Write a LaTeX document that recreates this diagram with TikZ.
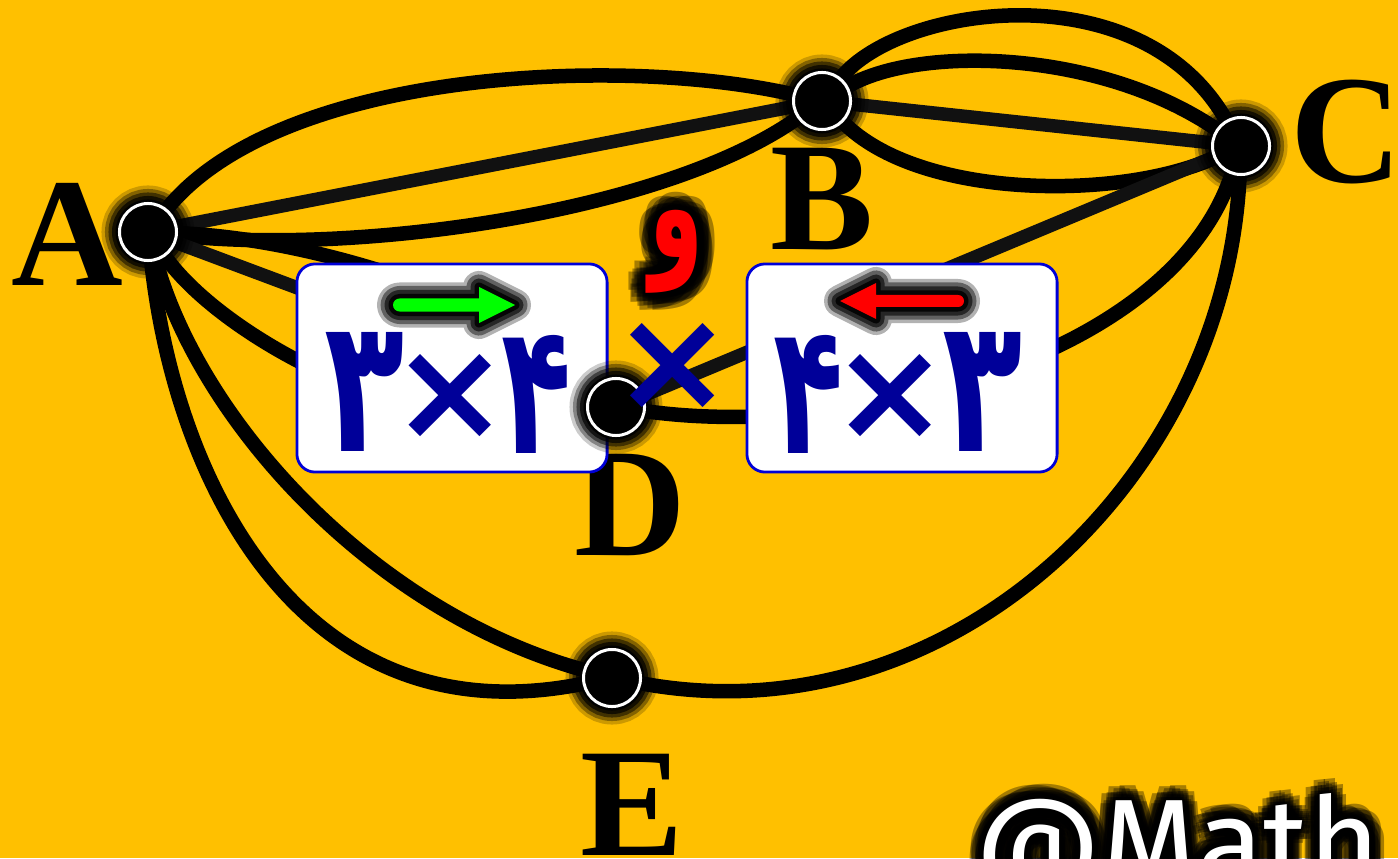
\documentclass[tikz,border=0pt]{standalone}
\usepackage{graphicx}
\usepackage{fontspec}
\setmainfont{Liberation Serif}
\newfontfamily\digitfont[Script=Arabic]{DejaVu Sans}
\newfontfamily\handfont{Fira Sans}
\usetikzlibrary{calc}
\definecolor{bgyellow}{RGB}{255,192,0}
\definecolor{digitblue}{RGB}{0,0,153}
\definecolor{boxblue}{RGB}{0,0,215}
\definecolor{edgegray}{RGB}{17,17,17}
\definecolor{arrowgreen}{RGB}{0,255,0}
\definecolor{arrowred}{RGB}{255,0,0}
\pgfdeclarelayer{background}
\pgfdeclarelayer{edges}
\pgfdeclarelayer{boxes}
\pgfdeclarelayer{top}
\pgfsetlayers{background,edges,main,boxes,top}

\begin{document}
\begin{tikzpicture}[x=0.01cm, y=-0.01cm,
  edge/.style={line width=0.145cm, black},
  straight/.style={line width=0.135cm, edgegray},
  vertex/.style={circle, fill=black, draw=white, line width=0.03cm,
    minimum size=0.57cm, inner sep=0pt,
    preaction={draw=black, draw opacity=0.2, line width=0.36cm},
    preaction={draw=black, draw opacity=0.35, line width=0.29cm},
    preaction={draw=black, draw opacity=0.5, line width=0.22cm},
    preaction={draw=black, draw opacity=0.7, line width=0.15cm},
    preaction={draw=black, draw opacity=0.9, line width=0.08cm}},
  card/.style={rounded corners=0.18cm, fill=white, draw=boxblue,
    line width=0.028cm, minimum width=3.1cm, minimum height=2.08cm, inner sep=0pt},
  letter/.style={font=\fontsize{44}{44}\selectfont\bfseries, anchor=base, inner sep=0pt},
  digit/.style={font=\digitfont\bfseries, text=digitblue, inner sep=0pt},
  wawstyle/.style={font=\digitfont\bfseries, inner sep=0pt},
  handstyle/.style={font=\handfont\fontsize{35}{35}\selectfont, anchor=base west, inner sep=0pt}]

\useasboundingbox (0,0) rectangle (1398,858);
\begin{pgfonlayer}{background}
  \fill[bgyellow] (0,0) rectangle (1398,858);
\end{pgfonlayer}

% vertices
\node[vertex] (A) at (148,232) {};
\node[vertex] (B) at (822,101) {};
\node[vertex] (C) at (1241,146) {};
\node[vertex] (E) at (612,678) {};
\begin{pgfonlayer}{top}
  \node[vertex] (D) at (616,407) {};
\end{pgfonlayer}

% edges of the multigraph
\begin{pgfonlayer}{edges}
  \draw[edge] (A) .. controls (280,70) and (620,55) .. (B);
  \draw[straight] (A) -- (B);
  \draw[edge] (A) .. controls (350,255) and (660,215) .. (B);
  \draw[edge] (B) .. controls (900,5) and (1140,-30) .. (C);
  \draw[edge] (B) .. controls (920,45) and (1100,50) .. (C);
  \draw[straight] (B) -- (C);
  \draw[edge] (B) .. controls (920,200) and (1120,200) .. (C);
  \draw[edge] (A) .. controls (350,240) and (560,330) .. (D);
  \draw[straight] (A) -- (D);
  \draw[edge] (A) .. controls (220,335) and (420,450) .. (D);
  \draw[straight] (D) -- (C);
  \draw[edge] (D) .. controls (850,440) and (1170,360) .. (C);
  \draw[edge] (A) .. controls (200,420) and (370,610) .. (E);
  \draw[edge] (A) .. controls (175,480) and (300,740) .. (E);
  \draw[edge] (C) .. controls (1225,480) and (950,740) .. (E);
\end{pgfonlayer}

% cards
\begin{pgfonlayer}{boxes}
  \node[card] (leftcard) at (452,368) {};
  \node[card] (rightcard) at (902,368) {};
\end{pgfonlayer}

\begin{pgfonlayer}{top}
  % green arrow with dark halo
  \foreach \w/\o in {0.32/0.3, 0.25/0.45, 0.17/0.6, 0.09/0.85}{
    \draw[black, draw opacity=\o, line width=\w cm, line join=round]
      (440,298.5) -- (479,298.5) -- (479,287) -- (515,305) -- (479,323) -- (479,311.5) -- (440,311.5)
      [rounded corners=0.065cm] -- (393,311.5) -- (393,298.5) -- cycle;
  }
  \fill[arrowgreen]
    (440,298.5) -- (479,298.5) -- (479,287) -- (515,305) -- (479,323) -- (479,311.5) -- (440,311.5)
    [rounded corners=0.065cm] -- (393,311.5) -- (393,298.5) -- cycle;

  % red arrow with dark halo
  \foreach \w/\o in {0.32/0.3, 0.25/0.45, 0.17/0.6, 0.09/0.85}{
    \draw[black, draw opacity=\o, line width=\w cm, line join=round]
      (920,295) -- (876,295) -- (876,283) -- (840,301) -- (876,319) -- (876,307) -- (920,307)
      [rounded corners=0.06cm] -- (964,307) -- (964,295) -- cycle;
  }
  \fill[arrowred]
    (920,295) -- (876,295) -- (876,283) -- (840,301) -- (876,319) -- (876,307) -- (920,307)
    [rounded corners=0.06cm] -- (964,307) -- (964,295) -- cycle;

  % products in the cards
  \node[digit] (lthree) at (365,392) {\resizebox*{0.80cm}{1.19cm}{۳}};
  \node[digit] (ltimes) at (450,397) {\resizebox*{!}{0.85cm}{×}};
  \node[digit] (lfour)  at (537,394) {\resizebox*{0.70cm}{1.18cm}{۴}};
  \node[digit] (rfour)  at (809,394) {\resizebox*{0.70cm}{1.18cm}{۴}};
  \node[digit] (rtimes) at (890,397) {\resizebox*{!}{0.85cm}{×}};
  \node[digit] (rthree) at (982,392) {\resizebox*{0.80cm}{1.19cm}{۳}};

  % middle sign
  \node[digit] (midtimes) at (673,367) {\resizebox*{!}{0.87cm}{×}};

  % red waw with dark halo
  \foreach \r in {3,6,9,12,15,18}{
    \foreach \a in {0,40,...,320}{
      \node[wawstyle, text=black, opacity=0.35,
            xshift={\r*cos(\a+\r*5)*0.01cm}, yshift={\r*sin(\a+\r*5)*0.01cm}]
        (wawglow-\r-\a) at (677,252) {\resizebox*{0.54cm}{0.83cm}{و}};
    }
  }
  \node[wawstyle, text=arrowred] (waw) at (677,252) {\resizebox*{0.54cm}{0.83cm}{و}};
\end{pgfonlayer}

% vertex labels
\node[letter] (labA) at (67,285) {A};
\node[letter] (labB) at (822,250) {B};
\node[letter] (labC) at (1346,183) {C};
\node[letter] (labD) at (630,555) {D};
\node[letter] (labE) at (632,855) {E};

% handle in the corner
\foreach \r in {3,6,9,12,15}{
  \foreach \a in {0,40,...,320}{
    \node[handstyle, text=black, opacity=0.35,
          xshift={\r*cos(\a+\r*5)*0.01cm}, yshift={\r*sin(\a+\r*5)*0.01cm}]
      (handglow-\r-\a) at (975,885) {@Math};
  }
}
\node[handstyle, text=white] (handle) at (975,885) {@Math};

\end{tikzpicture}
\end{document}
